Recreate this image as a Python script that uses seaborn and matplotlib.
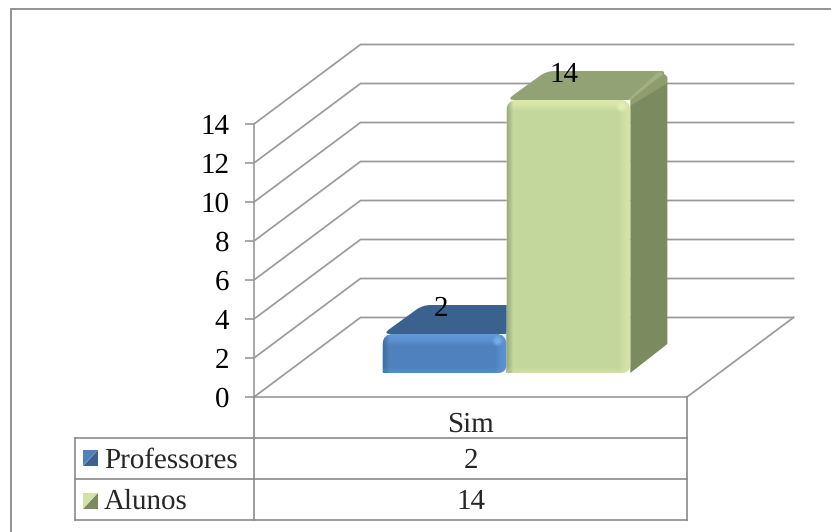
import numpy as np
import pandas as pd
import matplotlib
matplotlib.use("Agg")
import matplotlib.pyplot as plt
import seaborn as sns
from matplotlib.patches import PathPatch, Polygon, Rectangle, Circle
from matplotlib.lines import Line2D
from matplotlib.path import Path
from matplotlib.transforms import IdentityTransform

# Chart data
categories = ["Sim"]
series_names = ["Professores", "Alunos"]
series_values = [2, 14]
y_ticks = [0, 2, 4, 6, 8, 10, 12, 14]

# Colours per series: front, top, side, highlight, left edge
FRONT = ["#4f81bd", "#c3d69b"]
TOP = ["#3b628f", "#93a275"]
SIDE = ["#35577f", "#7c8a5f"]
GLOW = ["#6299da", "#dbe9ab"]
LEFT_EDGE = ["#3f6b9f", "#96a876"]
GRID = "#9a9a9a"
RULE = "#8a8a8a"
FONT_SIZE = 21

W, H = 831, 532
sns.set_style("white")
plt.rcParams["font.family"] = ["Liberation Serif", "DejaVu Serif"]
plt.rcParams["text.hinting"] = "no_hinting"
plt.rcParams["text.hinting_factor"] = 1

fig = plt.figure(figsize=(W / 100, H / 100), dpi=100, facecolor="white")
ax = fig.add_axes([254 / W, (H - 397) / H, 433 / W, 273 / H])

df = pd.DataFrame({"cat": categories * 2, "grupo": series_names, "valor": series_values})
sns.barplot(data=df, x="cat", y="valor", hue="grupo", hue_order=series_names,
            palette=FRONT, width=0.572, gap=0, saturation=1, legend=False,
            linewidth=0, ax=ax, zorder=4)

ax.set_xlim(-0.5, 0.5)
ax.set_ylim(0, 14)
ax.set_yticks(y_ticks)
ax.set_xticks([])
ax.set_xlabel("")
ax.set_ylabel("")
ax.patch.set_alpha(0)
ax.tick_params(axis="y", left=True, length=6.5, width=1.2, color=GRID, pad=11.5,
               labelsize=FONT_SIZE, labelcolor="black")
for name, spine in ax.spines.items():
    spine.set_visible(name in ("left", "bottom"))
    spine.set_color(GRID)
    spine.set_linewidth(1.2)

PIX = IdentityTransform()
WALL_DEPTH = np.array([106.5, 79.5])
BAR_SHIFT = np.array([36.0, 24.0])
BAR_DEPTH = np.array([37.0, 29.0])


def at(x, v):
    """Data position on the front plane, in display pixels."""
    return ax.transData.transform((x, v))


def img(x, y):
    """Position measured from the top-left corner, in display pixels."""
    return np.array([x, H - y], dtype=float)


def line(points, color=GRID, lw=1.25, z=1):
    xs, ys = zip(*points)
    fig.add_artist(Line2D(xs, ys, color=color, lw=lw, transform=PIX, zorder=z,
                          solid_capstyle="projecting", solid_joinstyle="miter"))


def rounded(points, radii):
    """Closed path through the points with a curved corner of the given radius."""
    pts = [np.asarray(p, float) for p in points]
    verts, codes = [], []
    n = len(pts)
    for i, p in enumerate(pts):
        r = radii[i]
        before = pts[i - 1] - p
        after = pts[(i + 1) % n] - p
        a = p + before / np.linalg.norm(before) * r
        b = p + after / np.linalg.norm(after) * r
        verts.append(a)
        codes.append(Path.MOVETO if i == 0 else Path.LINETO)
        verts.extend([p, b])
        codes.extend([Path.CURVE3, Path.CURVE3])
    verts.append(verts[0])
    codes.append(Path.CLOSEPOLY)
    return Path(verts, codes)


# Floor and side wall with the horizontal gridlines receding to the back plane
right_front = at(0.5, 0)
for v in y_ticks:
    front = at(-0.5, v)
    back = front + WALL_DEPTH
    line([front, back, (right_front[0] + WALL_DEPTH[0], back[1])])
line([right_front, right_front + WALL_DEPTH])

# Three-dimensional bars built on the rectangles from the bar plot
for idx, bar in enumerate(ax.patches):
    x0, x1 = bar.get_x(), bar.get_x() + bar.get_width()
    value = bar.get_height()
    left, bottom = at(x0, 0) + BAR_SHIFT
    right, top = at(x1, value) + BAR_SHIFT
    back_x, back_y = right + BAR_DEPTH[0], top + BAR_DEPTH[1]
    z = 4 + idx * 2

    # Side face first, so the rounded top face laps over it
    side_face = [(right, bottom), (right, top), (back_x - 6, back_y),
                 (back_x, back_y - 6), (back_x, bottom + BAR_DEPTH[1])]
    fig.add_artist(Polygon(side_face, closed=True, fc=SIDE[idx], ec="none",
                           transform=PIX, zorder=z))
    top_face = [(left, top), (right, top), (back_x, back_y), (left + BAR_DEPTH[0] + 3, back_y)]
    fig.add_artist(PathPatch(rounded(top_face, [8, 1, 7, 8]), fc=TOP[idx], ec="none",
                             transform=PIX, zorder=z + 0.01))
    ridge = [(right - 3, top), (back_x - 8, back_y), (back_x, back_y - 6), (back_x, back_y - 12),
             (right, top - 6)]
    fig.add_artist(Polygon(ridge, closed=True, fc=GLOW[idx], ec="none", alpha=0.2,
                           transform=PIX, zorder=z + 0.02))

    # Front face with rounded corners, spanning the plotted bar moved forward
    shape = rounded([(left, bottom), (right, bottom), (right, top), (left, top)],
                    [1, 9, 11, 11])
    bar.set_visible(False)
    fig.add_artist(PathPatch(shape, fc=FRONT[idx], ec="none", transform=PIX, zorder=z + 0.1))

    def bevel(x, y, w, h, color, alpha):
        strip = Rectangle((x, y), w, h, fc=color, ec="none", alpha=alpha,
                          transform=PIX, zorder=z + 0.2)
        fig.add_artist(strip)
        strip.set_clip_path(PathPatch(shape, transform=PIX))

    # Soft bevel around the front face
    for i in range(11):
        fade = 1 - (i / 11) ** 1.6
        bevel(left, top - i - 1, right - left, 1, GLOW[idx], 0.95 * fade)
        bevel(right - i - 1, bottom, 1, top - bottom - 1, GLOW[idx], 0.7 * fade)
    for i in range(6):
        fade = 1 - i / 6
        bevel(left + i, bottom, 1, top - bottom, LEFT_EDGE[idx], 0.85 * fade)
        bevel(left, bottom + i, right - left, 1, GLOW[idx], 0.45 * fade)
    for radius, alpha in zip((5, 3.5, 2), (0.35, 0.45, 0.6)):
        fig.add_artist(Circle((right - 9, top - 7), radius, fc="#e6f2c0" if idx else "#7fb2ec",
                              ec="none", alpha=alpha, transform=PIX, zorder=z + 0.3))

    # Value printed over the top face
    centre = (left + right) / 2
    fig.text((centre - 4) / W, (top + 25) / H, str(series_values[idx]), fontsize=FONT_SIZE,
             ha="center", va="center", color="black", zorder=12)

# Data table underneath the plot
table_left, divider, table_right = 74.5, 254, 687
rows_y = [437.5, 479, 520]
line([img(table_left, 437.5), img(table_left, 520)], RULE, 1.2, 9)
line([img(divider, 397), img(divider, 520)], RULE, 1.2, 9)
line([img(table_right, 397), img(table_right, 520)], RULE, 1.2, 9)
for y in rows_y:
    line([img(table_left, y), img(table_right, y)], RULE, 1.2, 9)

table_centre = (divider + table_right) / 2
fig.text(table_centre / W, (H - 422) / H, categories[0], fontsize=FONT_SIZE, ha="center", va="center_baseline")
row_mid = [457.5, 498.5]
for name, value, y, key_y, idx in zip(series_names, series_values, row_mid, [450, 493], [0, 1]):
    fig.text(table_centre / W, (H - y) / H, str(value), fontsize=FONT_SIZE, ha="center", va="center_baseline")
    fig.text(104 / W, (H - y) / H, name, fontsize=FONT_SIZE, ha="left", va="center_baseline")
    nw, ne = img(83, key_y), img(98, key_y)
    sw, se = img(83, key_y + 15.5), img(98, key_y + 15.5)
    fig.add_artist(Polygon([nw, ne, sw], closed=True, fc=(FRONT[0] if idx == 0 else "#d3e2a5"),
                           ec="none", transform=PIX, zorder=9))
    fig.add_artist(Polygon([ne, se, sw], closed=True, fc=(TOP[0] if idx == 0 else SIDE[1]),
                           ec="none", transform=PIX, zorder=9))

# Outer frame of the chart, running off the right and bottom edges
line([img(10.5, H + 2), img(10.5, 9), img(W + 2, 9)], RULE, 1.3, 9)

fig.savefig("out.png", dpi=100, facecolor="white")
